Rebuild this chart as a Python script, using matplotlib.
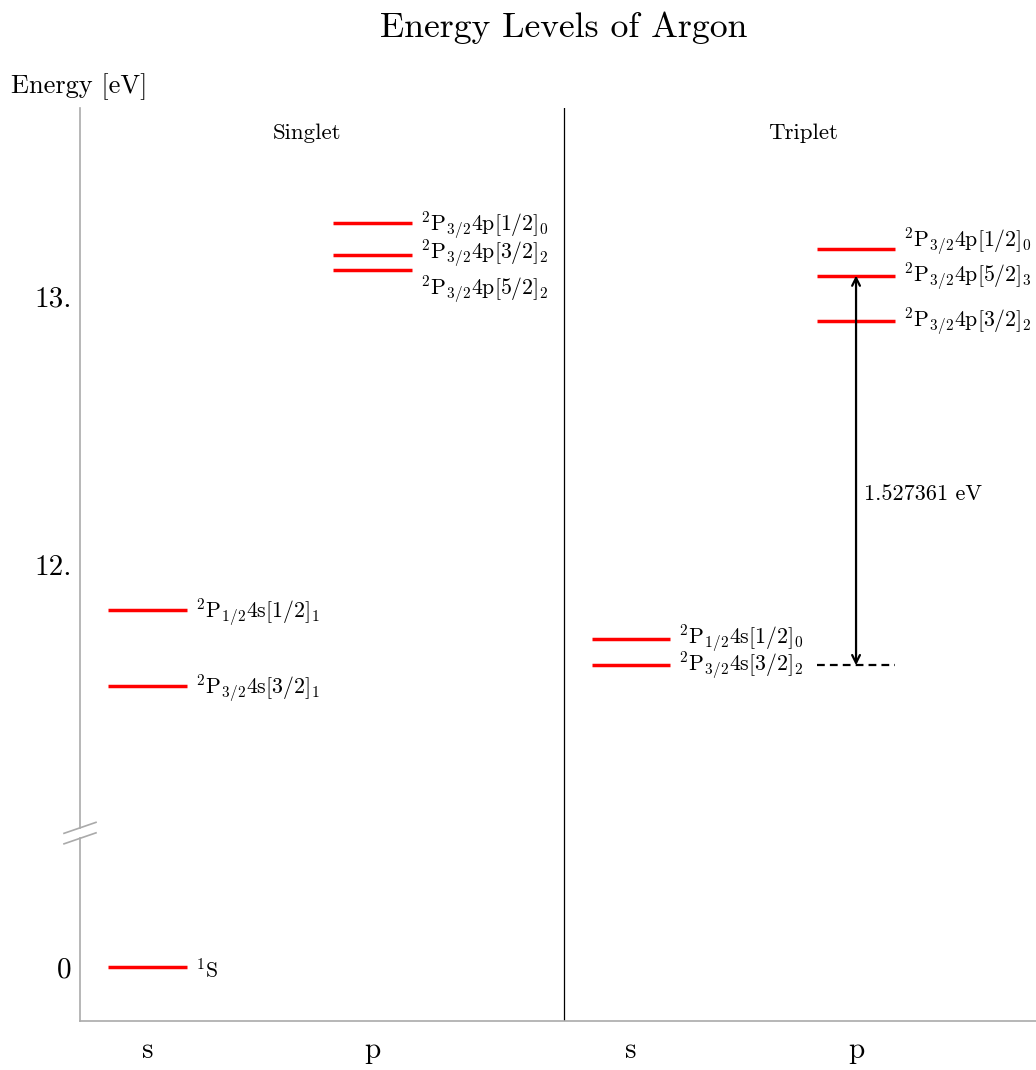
import numpy as np
import matplotlib
matplotlib.use("Agg")
import matplotlib.pyplot as plt
from matplotlib.ticker import FixedLocator, FixedFormatter

plt.rcParams["font.family"] = ["cmr10", "DejaVu Serif"]
plt.rcParams["mathtext.fontset"] = "cm"
plt.rcParams["axes.unicode_minus"] = False

# ---- data -------------------------------------------------------------
orbitals = ["s", "p"]
multiplets = ["Singlet", "Triplet"]

ground_energy = [0.0]
ground_labels = [r"$^{1}\mathrm{S}$"]

singlet_s_energy = [11.830, 11.546]
singlet_s_labels = [r"$^{2}\mathrm{P}_{1/2}4\mathrm{s}[1/2]_{1}$",
                    r"$^{2}\mathrm{P}_{3/2}4\mathrm{s}[3/2]_{1}$"]

singlet_p_energy = [13.273, 13.153, 13.095]
singlet_p_labels = [r"$^{2}\mathrm{P}_{3/2}4\mathrm{p}[1/2]_{0}$",
                    r"$^{2}\mathrm{P}_{3/2}4\mathrm{p}[3/2]_{2}$",
                    r"$^{2}\mathrm{P}_{3/2}4\mathrm{p}[5/2]_{2}$"]

triplet_s_energy = [11.723, 11.624]
triplet_s_labels = [r"$^{2}\mathrm{P}_{1/2}4\mathrm{s}[1/2]_{0}$",
                    r"$^{2}\mathrm{P}_{3/2}4\mathrm{s}[3/2]_{2}$"]

triplet_p_energy = [13.176, 13.076, 12.908]
triplet_p_labels = [r"$^{2}\mathrm{P}_{3/2}4\mathrm{p}[1/2]_{0}$",
                    r"$^{2}\mathrm{P}_{3/2}4\mathrm{p}[5/2]_{3}$",
                    r"$^{2}\mathrm{P}_{3/2}4\mathrm{p}[3/2]_{2}$"]

transition_text = "1.527361 eV"

y_ticks = [0, 12, 13]
y_tick_labels = ["0", "12.", "13."]

# ---- broken energy axis (0.5 .. 11 eV collapsed) ----------------------
LO, HI, EPS = 0.5, 11.0, 1e-4
SPAN = HI - LO


def fwd(y):
    y = np.asarray(y, dtype=float)
    return np.where(y <= LO, y,
                    np.where(y >= HI, y - SPAN + SPAN * EPS, LO + (y - LO) * EPS))


def inv(u):
    u = np.asarray(u, dtype=float)
    b = LO + SPAN * EPS
    return np.where(u <= LO, u,
                    np.where(u >= b, u + SPAN - SPAN * EPS, LO + (u - LO) / EPS))


# ---- figure -----------------------------------------------------------
fig = plt.figure(figsize=(10.36, 10.70), dpi=100)
ax = fig.add_axes([80 / 1036, 49 / 1070, 956 / 1036, 913 / 1070])
ax.set_yscale("function", functions=(fwd, inv))
YMIN, YMAX = -0.2, 13.7
ax.set_ylim(YMIN, YMAX)
ax.set_xlim(-0.3, 3.95)

RED = "#ff0000"
HW = 0.175          # half width of a level bar
TRIPLET_SHIFT = 2.15
DIVIDER = 1.853
BASE = -1.8         # lowers a label so its capitals sit on the level

x_singlet = [0.0, 1.0]
x_triplet = [TRIPLET_SHIFT + 0.0, TRIPLET_SHIFT + 1.0]


def draw_levels(x, energies, labels, offsets):
    for e, lab, off in zip(energies, labels, offsets):
        ax.hlines(e, x - HW, x + HW, color=RED, lw=2.5, zorder=3)
        ax.annotate(lab, xy=(x + HW, e), xytext=(6.5, off + BASE),
                    textcoords="offset points", ha="left", va="center",
                    fontsize=15.7)


draw_levels(x_singlet[0], ground_energy, ground_labels, [0])
draw_levels(x_singlet[0], singlet_s_energy, singlet_s_labels, [0, 0])
draw_levels(x_singlet[1], singlet_p_energy, singlet_p_labels, [0, 3, -11.5])
draw_levels(x_triplet[0], triplet_s_energy, triplet_s_labels, [2, 1.5])
draw_levels(x_triplet[1], triplet_p_energy, triplet_p_labels, [7, 1.5, 1.5])

# transition arrow from the lower triplet s level up to the [5/2]_3 level
e_low = triplet_s_energy[1]
e_high = triplet_p_energy[1]
xa = x_triplet[1]
ax.hlines(e_low, xa - HW, xa + HW, color="black", lw=1.6,
          linestyles=(0, (3.5, 2.3)), zorder=3)
ax.annotate("", xy=(xa, e_high), xytext=(xa, e_low),
            arrowprops=dict(arrowstyle="<->", lw=1.6, color="black",
                            shrinkA=0, shrinkB=0, mutation_scale=14),
            zorder=4)
ax.annotate(transition_text, xy=(xa, (e_low + e_high) / 2 - 0.09),
            xytext=(6, 0), textcoords="offset points",
            ha="left", va="center", fontsize=16)

# divider between singlet and triplet columns
ax.axvline(DIVIDER, color="black", lw=0.9)

# column headers
ax.text(0.71, 0.9726, multiplets[0], transform=ax.get_xaxis_transform(),
        ha="center", va="center", fontsize=16.5)
ax.text(2.915, 0.9726, multiplets[1], transform=ax.get_xaxis_transform(),
        ha="center", va="center", fontsize=16.5)

# ticks
ax.yaxis.set_major_locator(FixedLocator(y_ticks))
ax.yaxis.set_major_formatter(FixedFormatter(y_tick_labels))
ax.yaxis.set_minor_locator(FixedLocator([]))
ax.set_xticks(x_singlet + x_triplet)
ax.set_xticklabels(orbitals + orbitals)
ax.tick_params(axis="y", length=0, pad=6, labelsize=21)
ax.tick_params(axis="x", length=0, pad=12, labelsize=21)

# spines
GREY = "#aaaaaa"
for side in ("top", "right", "left"):
    ax.spines[side].set_visible(False)
ax.spines["bottom"].set_color(GREY)
ax.spines["bottom"].set_linewidth(1.2)

# left spine with a break
span_u = fwd(YMAX) - fwd(YMIN)
fb = float((fwd(LO) - fwd(YMIN)) / span_u)
gap = 5.25 / 913
ax.plot([0, 0], [0, fb - gap], transform=ax.transAxes, color=GREY,
        lw=1.2, clip_on=False)
ax.plot([0, 0], [fb + gap, 1], transform=ax.transAxes, color=GREY,
        lw=1.2, clip_on=False)
dx, dd = 16 / 956, 5.5 / 913
for c in (fb - gap, fb + gap):
    ax.plot([-dx, dx], [c - dd, c + dd], transform=ax.transAxes,
            color=GREY, lw=1.2, clip_on=False)

# title and axis label
fig.text(563.5 / 1036, 1 - 28 / 1070, "Energy Levels of Argon",
         ha="center", va="center", fontsize=25.7)
fig.text(79.5 / 1036, 1 - 87 / 1070, "Energy [eV]",
         ha="center", va="center", fontsize=19)

fig.savefig("out.png", dpi=100)
